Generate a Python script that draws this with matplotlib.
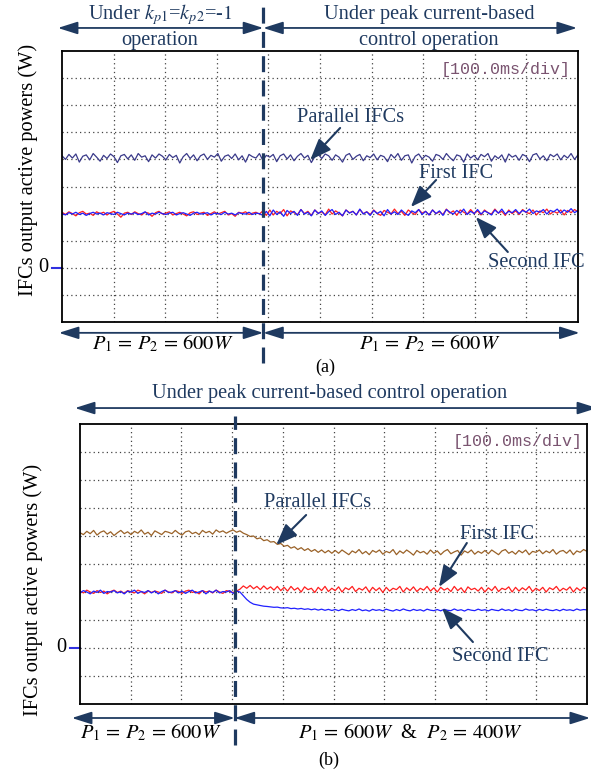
import numpy as np
import matplotlib
matplotlib.use('Agg')
from matplotlib import pyplot as plt
from matplotlib.transforms import blended_transform_factory

plt.rcParams['font.family'] = ['Liberation Serif', 'DejaVu Serif']
plt.rcParams['mathtext.fontset'] = 'stix'

# ---- data (W, 300 W/div ; time in ms, 100 ms/div) ----
t_a = np.linspace(0, 1000, 150)
t_b = np.linspace(0, 1000, 150)
switch_a = 390
switch_b = 305

a_parallel = [
    1240, 1200, 1255, 1215, 1260, 1170, 1235, 1250, 1195, 1265, 1225, 1180, 1245, 1210, 1260,
    1230, 1165, 1240, 1255, 1205, 1250, 1190, 1265, 1225, 1240, 1175, 1250, 1215, 1260, 1235,
    1195, 1255, 1220, 1245, 1160, 1230, 1265, 1210, 1250, 1185, 1240, 1260, 1200, 1245, 1225,
    1265, 1180, 1235, 1250, 1210, 1260, 1195, 1240, 1170, 1255, 1230, 1215, 1265, 1190, 1245,
    1225, 1255, 1175, 1240, 1260, 1205, 1250, 1185, 1235, 1265, 1215, 1245, 1165, 1230, 1255,
    1210, 1260, 1240, 1190, 1250, 1225, 1170, 1245, 1265, 1200, 1235, 1255, 1185, 1240, 1220,
    1260, 1195, 1245, 1230, 1175, 1255, 1215, 1265, 1190, 1240, 1250, 1160, 1235, 1260, 1205,
    1245, 1225, 1180, 1255, 1240, 1200, 1265, 1220, 1185, 1250, 1235, 1170, 1260, 1215, 1245,
    1195, 1255, 1230, 1265, 1180, 1240, 1210, 1250, 1170, 1260, 1225, 1245, 1190, 1255, 1235,
    1175, 1250, 1265, 1205, 1240, 1185, 1255, 1230, 1260, 1195, 1245, 1215, 1265, 1200, 1250]
a_first = [
    615, 590, 620, 600, 575, 610, 625, 595, 605, 580, 620, 600, 615, 585, 610,
    625, 595, 560, 605, 615, 590, 620, 600, 585, 615, 605, 570, 610, 625, 595,
    605, 620, 585, 600, 615, 595, 575, 610, 620, 590, 605, 615, 580, 600, 620,
    595, 610, 625, 585, 600, 570, 615, 605, 620, 590, 605, 615, 595, 630, 580,
    640, 585, 625, 600, 645, 575, 630, 610, 590, 645, 600, 625, 580, 640, 605,
    620, 585, 650, 595, 630, 605, 575, 640, 610, 625, 585, 645, 600, 620, 590,
    640, 605, 580, 635, 615, 595, 650, 600, 625, 580, 640, 610, 590, 645, 605,
    625, 585, 640, 600, 620, 590, 650, 605, 630, 580, 640, 615, 595, 645, 600,
    630, 585, 640, 610, 595, 650, 605, 625, 580, 640, 600, 630, 590, 645, 615,
    600, 640, 585, 630, 610, 650, 595, 625, 605, 640, 585, 635, 610, 645, 620]
a_second = [
    600, 585, 610, 595, 615, 590, 605, 580, 600, 615, 595, 605, 585, 610, 600,
    590, 615, 600, 585, 605, 595, 610, 590, 600, 620, 585, 605, 595, 615, 600,
    590, 605, 615, 585, 600, 610, 595, 580, 605, 615, 595, 600, 610, 585, 605,
    600, 590, 615, 595, 605, 585, 610, 600, 595, 615, 590, 605, 600, 580, 625,
    575, 640, 590, 620, 570, 635, 600, 625, 580, 645, 595, 615, 575, 640, 600,
    630, 580, 620, 645, 590, 615, 575, 640, 605, 625, 585, 650, 595, 620, 580,
    635, 600, 625, 575, 645, 595, 620, 590, 640, 605, 580, 630, 610, 645, 590,
    625, 585, 640, 600, 630, 580, 645, 615, 595, 635, 605, 650, 590, 625, 600,
    645, 595, 630, 610, 585, 640, 605, 650, 595, 625, 610, 645, 600, 635, 615,
    650, 600, 630, 615, 645, 595, 635, 620, 650, 605, 640, 615, 655, 610, 635]

b_parallel = [
    1235, 1215, 1250, 1225, 1260, 1210, 1240, 1255, 1220, 1245, 1205, 1235, 1260, 1225, 1245,
    1215, 1250, 1230, 1265, 1220, 1240, 1205, 1255, 1235, 1215, 1250, 1240, 1225, 1260, 1230,
    1210, 1245, 1255, 1225, 1240, 1215, 1260, 1235, 1250, 1220, 1265, 1240, 1255, 1230, 1250,
    1265, 1240, 1255, 1230, 1215, 1195, 1200, 1170, 1180, 1150, 1160, 1135, 1140, 1110, 1120,
    1090, 1100, 1070, 1085, 1055, 1075, 1045, 1065, 1035, 1055, 1025, 1050, 1020, 1045, 1015,
    1045, 1015, 1050, 1025, 1000, 1040, 1020, 1055, 1010, 1035, 1000, 1045, 1025, 1050, 1005,
    1035, 1020, 1055, 1000, 1040, 1015, 1050, 1025, 995, 1045, 1020, 1035, 1005, 1050, 1015,
    1040, 1000, 1035, 1055, 1010, 1030, 1045, 995, 1040, 1020, 1050, 1005, 1035, 1015, 1045,
    1010, 1050, 1025, 1000, 1040, 1055, 1015, 1035, 1005, 1045, 1020, 1050, 1000, 1035, 1025,
    1050, 1010, 1040, 1020, 1055, 1005, 1035, 1045, 1015, 1050, 1000, 1040, 1025, 1055, 1035]
b_first = [
    610, 590, 620, 600, 585, 615, 595, 610, 580, 605, 620, 595, 610, 585, 615,
    600, 590, 620, 605, 580, 615, 595, 610, 600, 585, 620, 600, 590, 615, 605,
    585, 610, 620, 595, 605, 580, 615, 600, 610, 590, 620, 600, 585, 615, 605,
    595, 610, 630, 665, 640, 670, 635, 660, 625, 665, 630, 655, 620, 660, 615,
    650, 610, 660, 620, 645, 600, 655, 625, 640, 595, 650, 615, 660, 605, 640,
    615, 655, 600, 645, 625, 660, 605, 640, 620, 655, 600, 650, 615, 645, 595,
    650, 610, 640, 625, 660, 600, 645, 615, 655, 605, 640, 620, 660, 610, 645,
    600, 650, 620, 640, 605, 660, 615, 645, 595, 655, 625, 640, 610, 650, 600,
    645, 615, 660, 605, 640, 625, 655, 600, 650, 610, 645, 620, 660, 605, 640,
    615, 650, 600, 645, 625, 660, 610, 640, 620, 655, 600, 645, 615, 650, 630]
b_second = [
    590, 615, 600, 580, 610, 595, 620, 585, 605, 600, 615, 590, 605, 580, 610,
    600, 620, 585, 605, 595, 615, 590, 610, 580, 605, 620, 595, 600, 615, 590,
    610, 585, 605, 620, 590, 600, 615, 580, 610, 595, 620, 590, 605, 600, 615,
    585, 610, 600, 560, 520, 490, 470, 462, 455, 448, 445, 440, 436, 438, 430,
    428, 432, 422, 426, 418, 424, 414, 420, 410, 418, 406, 416, 404, 414, 402,
    412, 400, 415, 405, 398, 412, 402, 418, 400, 408, 395, 414, 403, 410, 398,
    416, 404, 396, 412, 400, 418, 405, 398, 414, 402, 410, 396, 416, 405, 400,
    412, 398, 415, 404, 400, 418, 402, 410, 396, 414, 405, 400, 416, 403, 410,
    398, 414, 405, 400, 418, 402, 410, 396, 415, 404, 400, 418, 405, 410, 398,
    414, 402, 416, 405, 400, 412, 398, 415, 404, 410, 400, 418, 405, 412, 408]

navy = '#1f3a60'
red = '#ff2020'
blue = '#2020ff'
fs = 14.7

fig = plt.figure(figsize=(5.91, 7.74), dpi=100)
ax_a = fig.add_axes([62/591, 1-322/774, 516/591, 271/774])
ax_b = fig.add_axes([80/591, 1-704/774, 507/591, 280/774])


def scope(ax):
    ax.set_xlim(0, 1000)
    ax.set_ylim(-600, 2400)
    ax.set_xticks(np.arange(100, 1000, 100))
    ax.set_yticks(np.arange(-300, 2400, 300))
    ax.tick_params(length=0, labelbottom=False, labelleft=False)
    ax.grid(True, ls=(0, (1, 2.5)), color='#444444', lw=0.9)
    for s in ax.spines.values():
        s.set_linewidth(1.3)
    tr = blended_transform_factory(ax.transAxes, ax.transData)
    ax.plot([-0.02, 0], [0, 0], color='#3030e0', lw=1.5, transform=tr, clip_on=False)
    ax.text(-0.026, 0, '0', transform=tr, ha='right', va='center', fontsize=fs)


def harrow(ax, x0, x1, y):
    ax.annotate('', xy=(x1, y), xytext=(x0, y), xycoords='axes fraction',
                arrowprops=dict(arrowstyle='<|-|>,head_length=1.2,head_width=0.38',
                                mutation_scale=10, lw=1.3, color=navy,
                                shrinkA=0, shrinkB=0))


def pointer(ax, label, txt_xy, tail, tip):
    ax.text(txt_xy[0], txt_xy[1], label, color=navy, fontsize=fs,
            ha='center', va='center', zorder=6)
    ax.annotate('', xy=tip, xytext=tail,
                arrowprops=dict(arrowstyle='-|>,head_length=1.3,head_width=0.5',
                                mutation_scale=10, lw=1.5, color=navy,
                                shrinkA=0, shrinkB=0), zorder=6)


def switch_line(ax, x, y0, y1):
    tr = blended_transform_factory(ax.transData, ax.transAxes)
    ax.plot([x, x], [y0, y1], color=navy, lw=2.3, ls=(0, (5, 2.6)),
            transform=tr, clip_on=False, zorder=7)


# ---- panel (a) ----
scope(ax_a)
ax_a.plot(t_a, a_parallel, color='#3a3a8a', lw=0.9)
ax_a.plot(t_a, a_first, color=red, lw=0.9)
ax_a.plot(t_a, a_second, color=blue, lw=0.9)
switch_line(ax_a, switch_a, -0.15, 1.175)
fa = switch_a / 1000
harrow(ax_a, -0.008, fa, 1.085)
harrow(ax_a, fa, 0.998, 1.085)
harrow(ax_a, -0.006, fa, -0.04)
harrow(ax_a, fa, 1.003, -0.04)
ax_a.text(0.19, 1.133, r'Under $k_{p1}$=$k_{p2}$=-$\mathit{1}$', transform=ax_a.transAxes,
          ha='center', va='center', fontsize=fs, color=navy)
ax_a.text(0.19, 1.037, 'operation', transform=ax_a.transAxes,
          ha='center', va='center', fontsize=fs, color=navy)
ax_a.text(0.711, 1.133, 'Under peak current-based', transform=ax_a.transAxes,
          ha='center', va='center', fontsize=fs, color=navy)
ax_a.text(0.711, 1.037, 'control operation', transform=ax_a.transAxes,
          ha='center', va='center', fontsize=fs, color=navy)
ax_a.text(0.196, -0.08, r'$P_1\,=\,P_2\,=\,600W$', transform=ax_a.transAxes,
          ha='center', va='center', fontsize=fs)
ax_a.text(0.713, -0.08, r'$P_1\,=\,P_2\,=\,600W$', transform=ax_a.transAxes,
          ha='center', va='center', fontsize=fs)
ax_a.text(0.51, -0.166, '(a)', transform=ax_a.transAxes,
          ha='center', va='center', fontsize=13)
ax_a.text(0.985, 0.93, '[100.0ms/div]', transform=ax_a.transAxes, ha='right', va='center',
          fontsize=12, family='Liberation Mono', color='#7a5470')
ax_a.text(-0.066, 0.56, 'IFCs output active powers (W)', transform=ax_a.transAxes,
          rotation=90, ha='center', va='center', fontsize=fs)
pointer(ax_a, 'Parallel IFCs', (560, 1669), (539, 1548), (481, 1193))
pointer(ax_a, 'First IFC', (764, 1049), (725, 972), (676, 673))
pointer(ax_a, 'Second IFC', (919, 64), (864, 175), (802, 562))

# ---- panel (b) ----
scope(ax_b)
ax_b.plot(t_b, b_parallel, color='#9a6228', lw=0.9)
ax_b.plot(t_b, b_first, color=red, lw=0.9)
ax_b.plot(t_b, b_second, color=blue, lw=0.9)
switch_line(ax_b, switch_b, -0.146, 1.03)
fb = switch_b / 1000
harrow(ax_b, -0.01, 1.02, 1.057)
harrow(ax_b, -0.016, fb, -0.05)
harrow(ax_b, fb, 1.006, -0.05)
ax_b.text(0.493, 1.11, 'Under peak current-based control operation', transform=ax_b.transAxes,
          ha='center', va='center', fontsize=fs, color=navy)
ax_b.text(0.14, -0.105, r'$P_1\,=\,P_2\,=\,600W$', transform=ax_b.transAxes,
          ha='center', va='center', fontsize=fs)
ax_b.text(0.653, -0.105, r'$P_1\,=\,600W$  &  $P_2\,=\,400W$', transform=ax_b.transAxes,
          ha='center', va='center', fontsize=fs)
ax_b.text(0.49, -0.2, '(b)', transform=ax_b.transAxes,
          ha='center', va='center', fontsize=13)
ax_b.text(0.992, 0.936, '[100.0ms/div]', transform=ax_b.transAxes, ha='right', va='center',
          fontsize=12, family='Liberation Mono', color='#7a5470')
ax_b.text(-0.093, 0.407, 'IFCs output active powers (W)', transform=ax_b.transAxes,
          rotation=90, ha='center', va='center', fontsize=fs)
pointer(ax_b, 'Parallel IFCs', (469, 1564), (446, 1425), (387, 1104))
pointer(ax_b, 'First IFC', (822, 1211), (763, 1125), (708, 654))
pointer(ax_b, 'Second IFC', (830, -96), (775, 64), (714, 429))

fig.savefig('out.png', dpi=100)
